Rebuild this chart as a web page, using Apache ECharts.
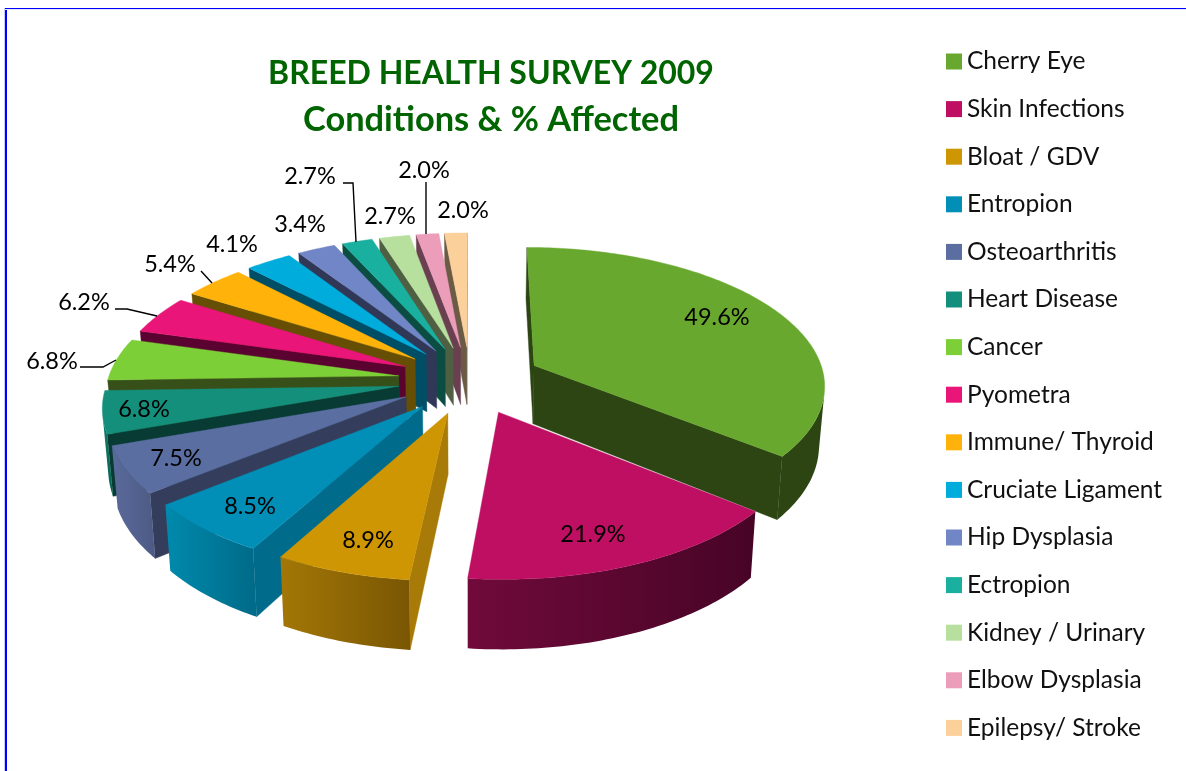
<!DOCTYPE html>
<html><head><meta charset="utf-8">
<style>html,body{margin:0;padding:0;background:#fff}#c{width:1186px;height:771px}</style>
<script src="https://cdn.jsdelivr.net/npm/echarts@6/dist/echarts.min.js"></script>
</head><body><div id="c"></div>
<script>
const categories = ['Cherry Eye','Skin Infections','Bloat / GDV','Entropion','Osteoarthritis','Heart Disease','Cancer','Pyometra','Immune/ Thyroid','Cruciate Ligament','Hip Dysplasia','Ectropion','Kidney / Urinary','Elbow Dysplasia','Epilepsy/ Stroke'];
const percentAffected = [49.6,21.9,8.9,8.5,7.5,6.8,6.8,6.2,5.4,4.1,3.4,2.7,2.7,2.0,2.0];
const topColors = ['#68a82e','#bf0f62','#cf9604','#018fb8','#5b6ea1','#148f7c','#7ccf36','#ea1578','#ffb30a','#00acdb','#7186c6','#1ab0a0','#b7e09f','#eb9dba','#fcd09a'];
const cutColors = ['#2c4512','#4a0428','#a87a07','#006b8a','#343e5c','#073b33','#37501a','#5a0230','#664e05','#004d66','#313857','#0b4d42','#4f5f42','#6a3f50','#6b5b45'];
const wallLeft  = ['#2c4512','#700a3b','#a37706','#008aad','#5a6a9a','#0f7f6c','#37501a','#5a0230','#664e05','#004d66','#313857','#0b4d42','#4f5f42','#6a3f50','#6b5b45'];
const wallRight = ['#2c4512','#470426','#7a5604','#006a88','#4d5a85','#0a5f50','#37501a','#5a0230','#664e05','#004d66','#313857','#0b4d42','#4f5f42','#6a3f50','#6b5b45'];
// label anchors, in page pixels
const labelX = [717,593,368,250,176,144,52,84,170,232,300,310,390,424,463];
const labelY = [317,534,540,506,458,409,361,302,264,244,224,176,216,170,210];
const leaderLines = [
  [[80,367],[103,367],[116,360]],
  [[115,309],[127,309],[157,316]],
  [[201,271],[212,283]],
  [[343,183],[353,183],[356,242]],
  [[426,182],[426,234]]
];
// projection of the tilted pie
const CX=470, CY=380, R=291, EXPL=72, K=0.47, PERSP=0.00044, H=59, TAPER=0.016;
const total = percentAffected.reduce((a,b)=>a+b,0);
const rad = d=>d*Math.PI/180;
function project(u,v,z){const p=1/(1+PERSP*v);return [CX+u*p*(1-TAPER*z/H), CY-K*v*p+z*p];}
const starts=[];let acc=0;
percentAffected.forEach(v=>{starts.push(acc);acc+=v;});
function polyArea(a){let s=0;for(let i=0;i<a.length;i++){const b=a[(i+1)%a.length],c=a[i];s+=c[0]*b[1]-b[0]*c[1];}return s;}
function solid(idx,value){
  const a0=starts[idx]/total*360, a1=a0+value/total*360, m=rad((a0+a1)/2);
  const u0=EXPL*Math.sin(m), v0=EXPL*Math.cos(m);
  const top=th=>project(u0+R*Math.sin(rad(th)),v0+R*Math.cos(rad(th)),0);
  const bot=th=>project(u0+R*Math.sin(rad(th)),v0+R*Math.cos(rad(th)),H);
  const at=project(u0,v0,0), ab=project(u0,v0,H);
  const kids=[]; const shape=(pts,fill)=>kids.push({type:'polygon',shape:{points:pts},style:{fill:fill,stroke:typeof fill==='string'?fill:'none',lineWidth:0.4}});
  const s0=[at,top(a0),bot(a0),ab]; if(polyArea(s0)<0) shape(s0,cutColors[idx]);
  const s1=[top(a1),at,ab,bot(a1)]; if(polyArea(s1)<0) shape(s1,cutColors[idx]);
  const n=Math.max(4,Math.ceil(a1-a0)), tops=[], bots=[];
  for(let i=0;i<n;i++){
    const t0=a0+(a1-a0)*i/n, t1=a0+(a1-a0)*(i+1)/n;
    if(polyArea([top(t0),top(t1),bot(t1),bot(t0)])<0){
      if(!tops.length){tops.push(top(t0));bots.push(bot(t0));}
      tops.push(top(t1));bots.push(bot(t1));
    }
  }
  if(tops.length){
    shape(tops.concat(bots.slice().reverse()),{type:'linear',x:0,y:0,x2:1,y2:0,colorStops:[{offset:0,color:wallLeft[idx]},{offset:1,color:wallRight[idx]}]});
  }
  const face=[at];for(let i=0;i<=n;i++)face.push(top(a0+(a1-a0)*i/n));
  shape(face,topColors[idx]);
  return kids;
}
const depth=categories.map((_,i)=>Math.cos(rad((starts[i]+percentAffected[i]/2)/total*360)));
const order=categories.map((_,i)=>i).sort((a,b)=>depth[b]-depth[a]);
const rank=[];order.forEach((idx,r)=>{rank[idx]=r;});
const series=categories.map((name,i)=>({
  type:'custom',name:name,coordinateSystem:'none',silent:true,animation:false,z:2+rank[i],
  itemStyle:{color:topColors[i]},
  data:[[percentAffected[i]]],
  renderItem:(params,api)=>({type:'group',children:solid(i,api.value(0))})
}));
series.push({
  type:'custom',name:'labels',coordinateSystem:'none',silent:true,animation:false,z:50,
  data:percentAffected.map((v,i)=>[v,labelX[i],labelY[i]]),
  renderItem:(params,api)=>{
    const kids=[{type:'text',style:{x:api.value(1),y:api.value(2),text:api.value(0).toFixed(1)+'%',fill:'#000',font:'23.5px Lato, "Noto Sans"',textAlign:'center',textVerticalAlign:'middle'}}];
    if(params.dataIndex===0) leaderLines.forEach(l=>kids.push({type:'polyline',shape:{points:l},style:{stroke:'#000',lineWidth:1.4,fill:'none'}}));
    return {type:'group',children:kids};
  }
});
const chart=echarts.init(document.getElementById('c'),null,{renderer:'canvas',width:1186,height:771});
chart.setOption({
  animation:false,
  backgroundColor:'#fff',
  color:topColors,
  title:{text:'BREED HEALTH SURVEY 2009',subtext:'Conditions & % Affected',left:486,top:50,textAlign:'center',itemGap:8,
    textStyle:{fontFamily:'Lato',fontWeight:'bold',fontSize:32,lineHeight:38,color:'#006400'},
    subtextStyle:{fontFamily:'Lato',fontWeight:'bold',fontSize:34.4,lineHeight:38,color:'#006400'}},
  legend:{data:categories,orient:'vertical',left:941,top:44,icon:'rect',itemWidth:16,itemHeight:16,itemGap:22.6,
    selectedMode:false,textStyle:{fontFamily:'Lato',fontSize:24.5,lineHeight:24,color:'#111'}},
  graphic:[
    {type:'rect',shape:{x:4,y:8,width:1,height:763},style:{fill:'#c8c8ff'},silent:true},
    {type:'rect',shape:{x:5,y:8,width:2,height:763},style:{fill:'#0000ff'},silent:true},
    {type:'rect',shape:{x:5,y:8,width:1181,height:1},style:{fill:'#0000ff'},silent:true},
    {type:'rect',shape:{x:5,y:9,width:1181,height:1},style:{fill:'#e4e4ff'},silent:true}
  ],
  series:series
});
</script></body></html>
